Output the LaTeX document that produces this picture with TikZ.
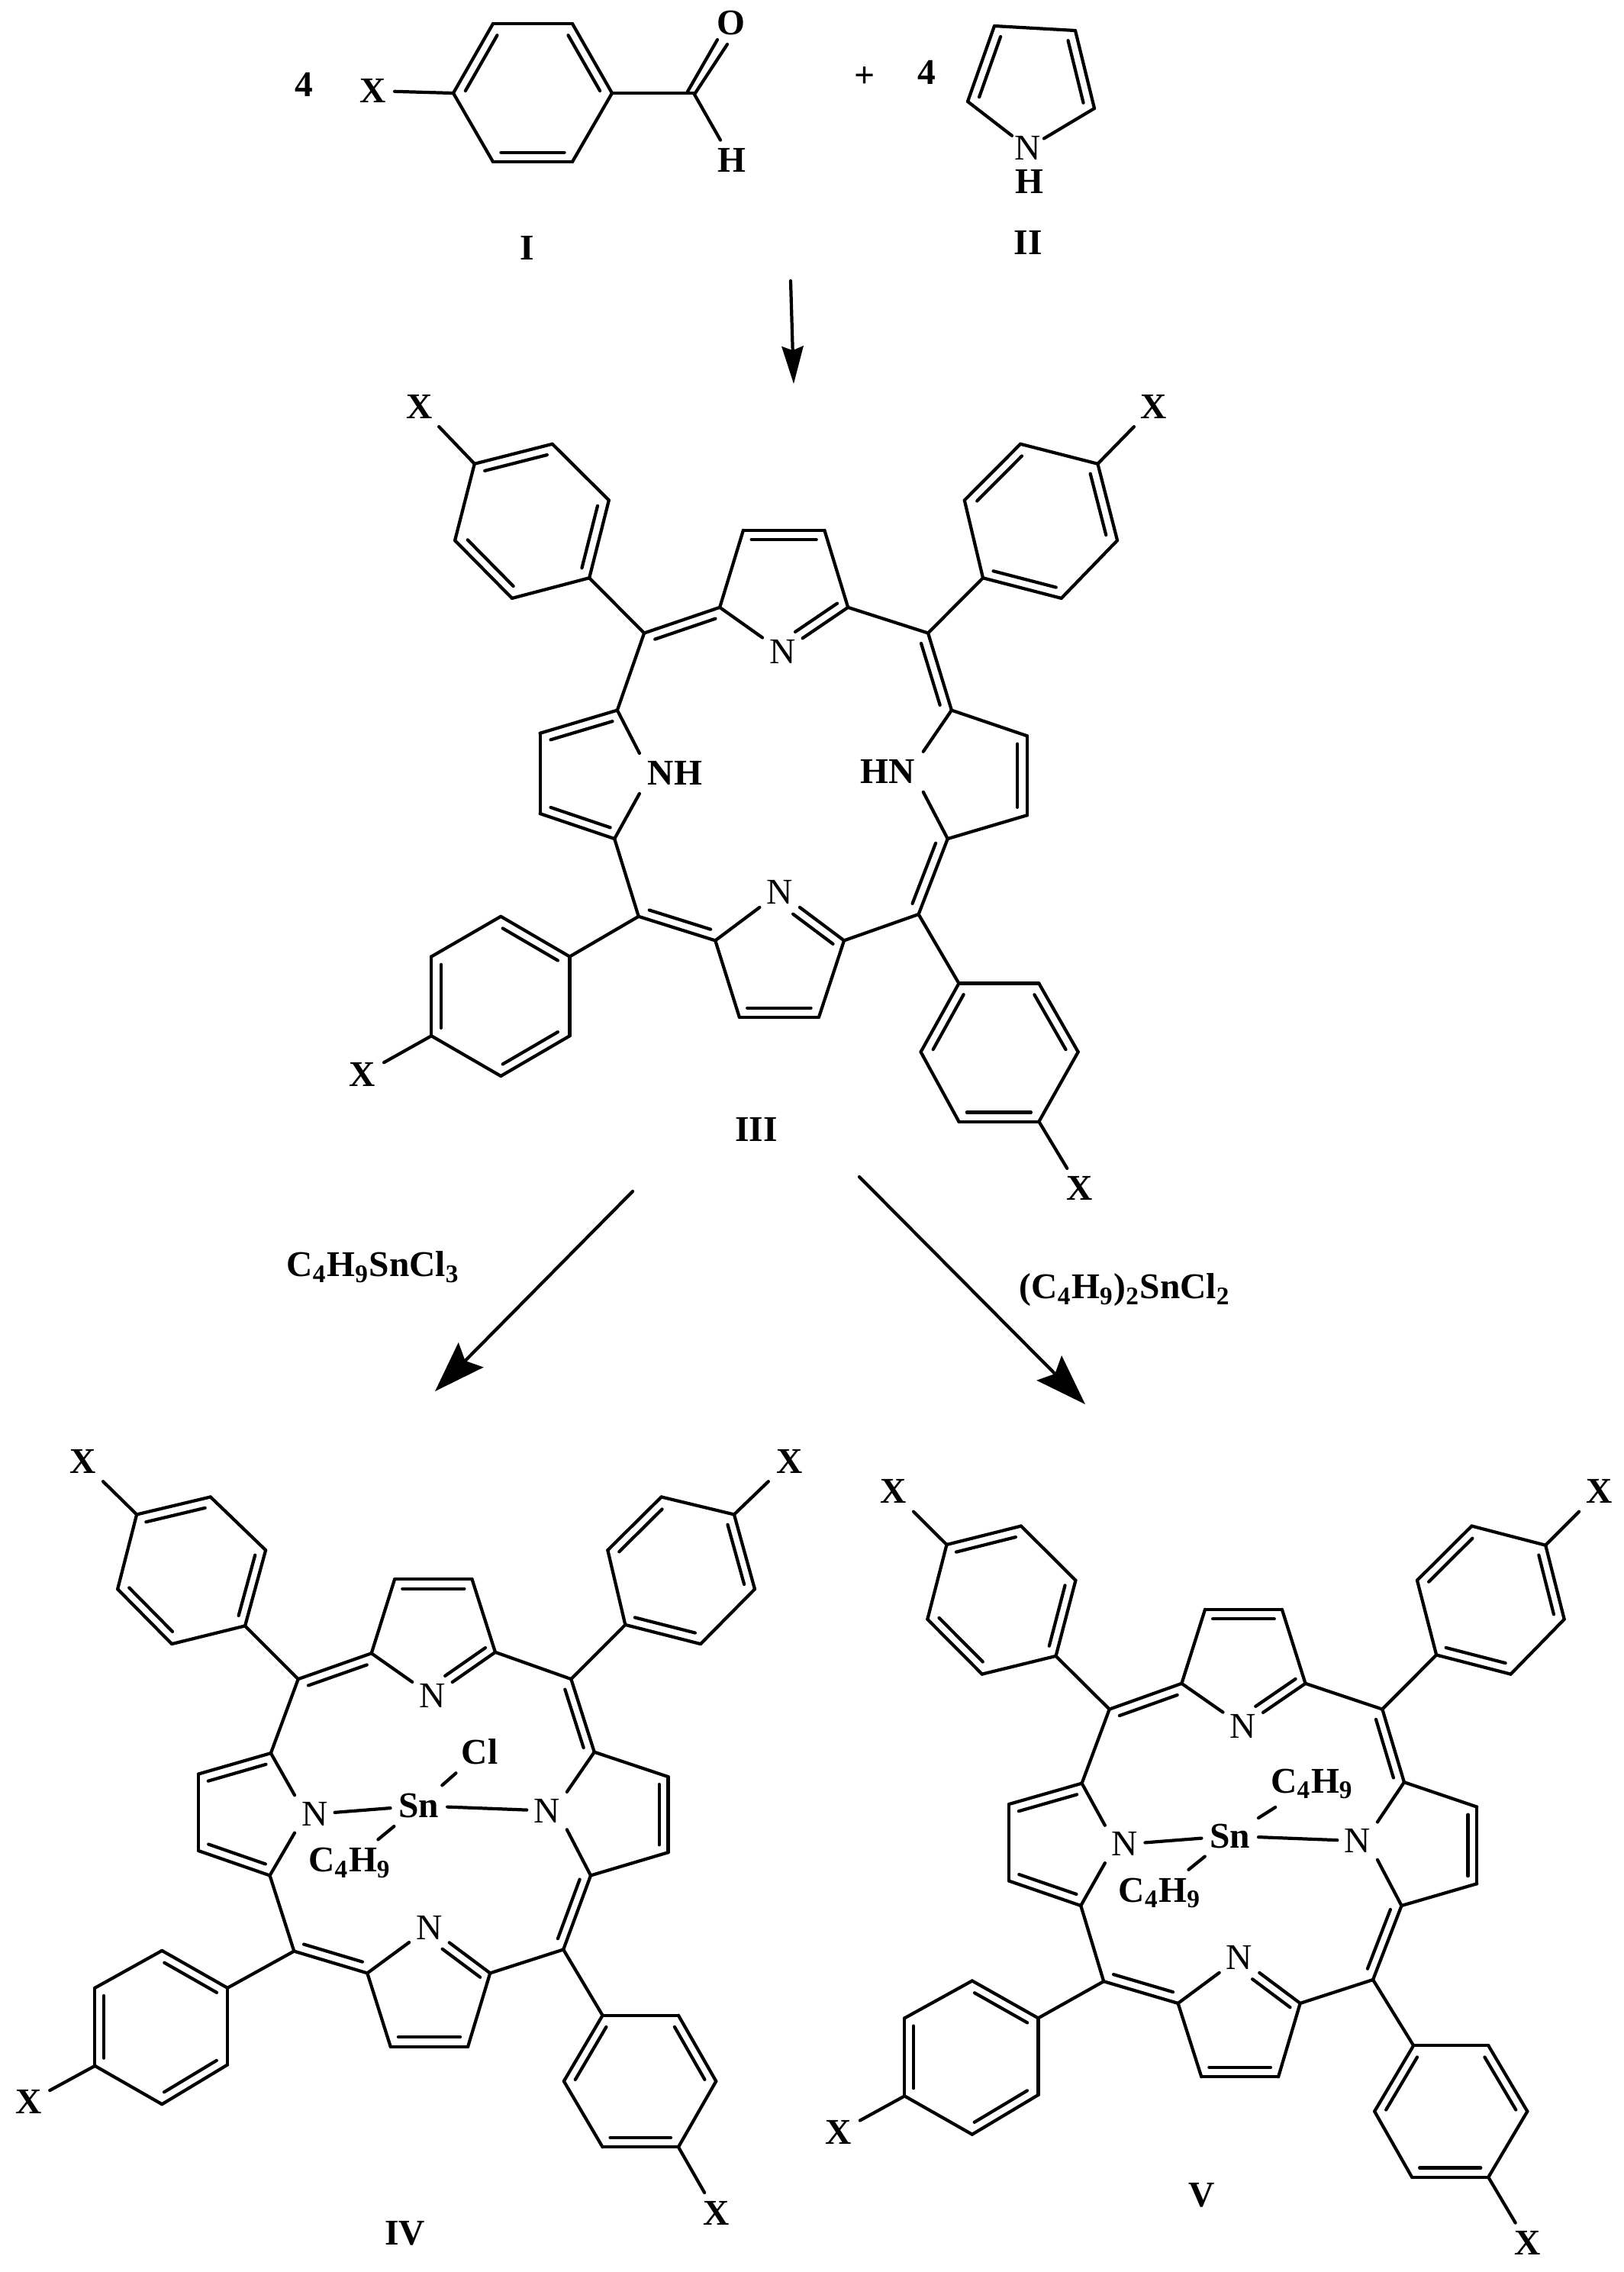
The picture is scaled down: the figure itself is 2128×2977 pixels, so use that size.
\documentclass[tikz,border=0pt]{standalone}
\usepackage{fontspec}
\setmainfont{Liberation Serif}
\usetikzlibrary{calc,arrows.meta}

\newcommand{\dgap}{3.5pt}
\newcommand{\dblpart}[4]{\draw ($(#1)!#3!(#2)!-\dgap!90:(#2)$) -- ($(#1)!#4!(#2)!-\dgap!90:(#2)$);}
\newcommand{\dbl}[2]{\dblpart{#1}{#2}{.1}{.9}}
\newcommand{\atoms}[2]{\foreach \n/\x/\y in {#2}{\coordinate (#1-\n) at (\x,\y);}}

\newcommand{\phenyl}[1]{
	\path (#1a) edge (#1b);
	\path (#1b) edge (#1c);
	\path (#1c) edge (#1d);
	\path (#1d) edge (#1e);
	\path (#1e) edge (#1f);
	\path (#1f) edge (#1a);
	\dbl{#1b}{#1c}
	\dbl{#1d}{#1e}
	\dbl{#1f}{#1a}
}

\newcommand{\porphyrin}[1]{
	\foreach \i/\j in {1/1,2/2,3/4,4/3}{
		\phenyl{#1-p\j}
		\path (#1-m\i) edge (#1-p\j a);
		\path (#1-p\j d) edge (#1-x\j);
	}
	\path (#1-m1) edge (#1-ta);
	\path (#1-ta) edge (#1-tb);
	\path (#1-tb) edge (#1-tc);
	\path (#1-tc) edge (#1-td);
	\path (#1-td) edge (#1-m2);
	\path (#1-ta) edge (#1-tn);
	\path (#1-td) edge (#1-tn);
	\path (#1-m2) edge (#1-ra);
	\path (#1-ra) edge (#1-rb);
	\path (#1-rb) edge (#1-rc);
	\path (#1-rc) edge (#1-rd);
	\path (#1-rd) edge (#1-m3);
	\path (#1-ra) edge (#1-rn.north east);
	\path (#1-rd) edge (#1-rn.south east);
	\path (#1-m3) edge (#1-bd);
	\path (#1-bd) edge (#1-bc);
	\path (#1-bc) edge (#1-bb);
	\path (#1-bb) edge (#1-ba);
	\path (#1-ba) edge (#1-m4);
	\path (#1-ba) edge (#1-bn);
	\path (#1-bd) edge (#1-bn);
	\path (#1-m4) edge (#1-ld);
	\path (#1-ld) edge (#1-lc);
	\path (#1-lc) edge (#1-lb);
	\path (#1-lb) edge (#1-la);
	\path (#1-la) edge (#1-m1);
	\path (#1-la) edge (#1-ln.north west);
	\path (#1-ld) edge (#1-ln.south west);
	\dbl{#1-m1}{#1-ta}
	\dbl{#1-tb}{#1-tc}
	\dblpart{#1-td}{#1-tn}{.08}{.72}
	\dbl{#1-m2}{#1-ra}
	\dbl{#1-rb}{#1-rc}
	\dbl{#1-rd}{#1-m3}
	\dbl{#1-bc}{#1-bb}
	\dblpart{#1-bn}{#1-bd}{.3}{.92}
	\dbl{#1-ba}{#1-m4}
	\dbl{#1-ld}{#1-lc}
	\dbl{#1-lb}{#1-la}
}

\tikzset{
	lab/.style={font=\fontsize{13.5}{15}\selectfont\bfseries,inner sep=2.5pt},
	nitro/.style={font=\fontsize{13.5}{15}\selectfont,inner sep=2pt},
	bigarrow/.style={line width=1.2pt,-{Stealth[length=19pt,width=13pt,inset=3pt]}},
	smallarrow/.style={line width=1.2pt,-{Stealth[length=14pt,width=8pt,inset=1.5pt]}}
}

\begin{document}
\begin{tikzpicture}[x=.01cm,y=-.01cm,line width=1.2pt,line cap=round]
	\useasboundingbox (0,0) rectangle (2128,2977);

	\atoms{b}{a/802/122,b/750/212,c/646/212,d/594/122,e/646/31,f/750/31}
	\atoms{py}{a/1268/133,b/1303/34,c/1409/40,d/1434/142}
	\atoms{ald}{c/909/122,c1/901/120,o1/940/52,c2/911/122,o2/953/58}
	\node[lab] (four1) at (398,111) {4};
	\node[lab] (xtop) at (489,119) {X};
	\node[lab] (otop) at (958,30) {O};
	\node[lab] (htop) at (959,210) {H};
	\node[lab] (plus) at (1133,101) {+};
	\node[lab] (four2) at (1214,95) {4};
	\node[nitro,inner sep=.5pt] (npy) at (1347,194) {N};
	\node[lab,inner sep=.5pt] (hpy) at (1349,238) {H};
	\node[lab] (I) at (691,325) {I};
	\node[lab] (II) at (1347,318) {II};
	\phenyl{b-}
	\path (b-d) edge (xtop);
	\path (b-a) edge (ald-c);
	\path (ald-c) edge (htop);
	\path (ald-c1) edge (ald-o1);
	\path (ald-c2) edge (ald-o2);
	\path (py-a) edge (py-b);
	\path (py-b) edge (py-c);
	\path (py-c) edge (py-d);
	\path (py-a) edge (npy);
	\path (py-d) edge (npy);
	\dbl{py-a}{py-b}
	\dbl{py-c}{py-d}

	\coordinate (t1) at (1036,368);
	\coordinate (t2) at (1040,503);
	\draw[smallarrow] (t1) -- (t2);

	\renewcommand{\dgap}{4.9pt}

	\begin{scope}[shift={(420,480)},xscale=.7337,yscale=.7018]
		\atoms{III}{m1/578/498,m2/1085/498,m3/1068/1023,m4/568/1027,
			ta/713/450,tb/755/306,tc/900/306,td/942/450,
			ra/1127/642,rb/1262/690,rc/1262/838,rd/1120/882,
			ba/705/1072,bb/748/1215,bc/890/1215,bd/935/1072,
			la/530/642,lb/392/685,lc/392/835,ld/525/882,
			p1a/480/395,p1b/342/433,p1c/240/325,p1d/275/182,p1e/414/145,p1f/515/250,
			p2a/1183/395,p2b/1150/250,p2c/1250/145,p2d/1388/182,p2e/1423/325,p2f/1323/433,
			p3a/445/1102,p3b/445/1250,p3c/322/1325,p3d/198/1250,p3e/198/1102,p3f/322/1027,
			p4a/1140/1152,p4b/1283/1152,p4c/1353/1280,p4d/1283/1410,p4e/1140/1410,p4f/1072/1280}
		\node[lab] (III-x1) at (177,75) {X};
		\node[lab] (III-x2) at (1488,75) {X};
		\node[lab] (III-x3) at (75,1322) {X};
		\node[lab] (III-x4) at (1355,1535) {X};
		\node[nitro] (III-tn) at (825,533) {N};
		\node[nitro] (III-bn) at (820,982) {N};
		\node[lab] (III-ln) at (633,760) {NH};
		\node[lab] (III-rn) at (1013,757) {HN};
		\node[lab] (III) at (778,1425) {III};
		\porphyrin{III}
	\end{scope}

	\coordinate (l1) at (829,1561);
	\coordinate (l2) at (570,1823);
	\coordinate (r1) at (1126,1542);
	\coordinate (r2) at (1422,1840);
	\draw[bigarrow] (l1) -- (l2);
	\draw[bigarrow] (r1) -- (r2);
	\node[lab] (reagent1) at (489,1660) {C\textsubscript{4}H\textsubscript{9}SnCl\textsubscript{3}};
	\node[lab] (reagent2) at (1474,1690) {(C\textsubscript{4}H\textsubscript{9})\textsubscript{2}SnCl\textsubscript{2}};

	\begin{scope}[shift={(0,1850)},xscale=.676,yscale=.7188]
		\atoms{IV}{m1/578/487,m2/1107/487,m3/1092/980,m4/570/983,
			ta/720/440,tb/765/305,tc/915/305,td/960/438,
			ra/1152/620,rb/1295/665,rc/1295/803,rd/1145/845,
			ba/712/1023,bb/757/1157,bc/907/1157,bd/950/1023,
			la/525/622,lb/385/660,lc/385/800,ld/523/845,
			p1a/475/390,p1b/333/423,p1c/228/323,p1d/265/187,p1e/408/155,p1f/515/252,
			p2a/1212/388,p2b/1178/252,p2c/1282/155,p2d/1423/187,p2e/1463/323,p2f/1358/423,
			p3a/441/1050,p3b/441/1190,p3c/314/1262,p3d/184/1192,p3e/184/1050,p3f/314/982,
			p4a/1168/1100,p4b/1315/1100,p4c/1388/1220,p4d/1315/1340,p4e/1168/1340,p4f/1093/1220}
		\node[lab] (IV-x1) at (160,90) {X};
		\node[lab] (IV-x2) at (1530,90) {X};
		\node[lab] (IV-x3) at (55,1258) {X};
		\node[lab] (IV-x4) at (1388,1460) {X};
		\node[nitro] (IV-tn) at (838,518) {N};
		\node[nitro] (IV-bn) at (832,940) {N};
		\node[nitro] (IV-ln) at (610,733) {N};
		\node[nitro] (IV-rn) at (1060,727) {N};
		\node[lab] (IV-sn) at (812,718) {Sn};
		\node[lab] (IV-cl) at (930,620) {Cl};
		\node[lab] (IV-bu) at (678,822) {C\textsubscript{4}H\textsubscript{9}};
		\node[lab] (IV) at (785,1498) {IV};
		\porphyrin{IV}
		\path (IV-ln) edge (IV-sn);
		\path (IV-sn) edge (IV-rn);
		\path (IV-sn) edge (IV-cl);
		\path (IV-sn) edge (IV-bu);
	\end{scope}

	\begin{scope}[shift={(1060,1850)},xscale=.6811,yscale=.7188]
		\atoms{V}{m1/578/542,m2/1103/542,m3/1085/1035,m4/567/1038,
			ta/717/495,tb/762/360,tc/910/360,td/955/495,
			ra/1145/675,rb/1285/720,rc/1285/860,rd/1140/900,
			ba/710/1078,bb/755/1212,bc/903/1212,bd/945/1078,
			la/525/677,lb/385/715,lc/385/855,ld/523/900,
			p1a/475/445,p1b/333/478,p1c/228/378,p1d/265/242,p1e/408/208,p1f/513/307,
			p2a/1207/443,p2b/1170/307,p2c/1275/208,p2d/1417/243,p2e/1453/378,p2f/1350/478,
			p3a/441/1105,p3b/441/1245,p3c/314/1317,p3d/184/1247,p3e/184/1105,p3f/314/1037,
			p4a/1163/1155,p4b/1307/1155,p4c/1382/1275,p4d/1307/1395,p4e/1160/1395,p4f/1088/1275}
		\node[lab] (V-x1) at (162,145) {X};
		\node[lab] (V-x2) at (1520,145) {X};
		\node[lab] (V-x3) at (57,1313) {X};
		\node[lab] (V-x4) at (1382,1515) {X};
		\node[nitro] (V-tn) at (835,573) {N};
		\node[nitro] (V-bn) at (828,995) {N};
		\node[nitro] (V-ln) at (608,788) {N};
		\node[nitro] (V-rn) at (1055,782) {N};
		\node[lab] (V-sn) at (810,773) {Sn};
		\node[lab] (V-bu1) at (968,678) {C\textsubscript{4}H\textsubscript{9}};
		\node[lab] (V-bu2) at (675,877) {C\textsubscript{4}H\textsubscript{9}};
		\node[lab] (V) at (755,1428) {V};
		\porphyrin{V}
		\path (V-ln) edge (V-sn);
		\path (V-sn) edge (V-rn);
		\path (V-sn) edge (V-bu1);
		\path (V-sn) edge (V-bu2);
	\end{scope}
\end{tikzpicture}
\end{document}
